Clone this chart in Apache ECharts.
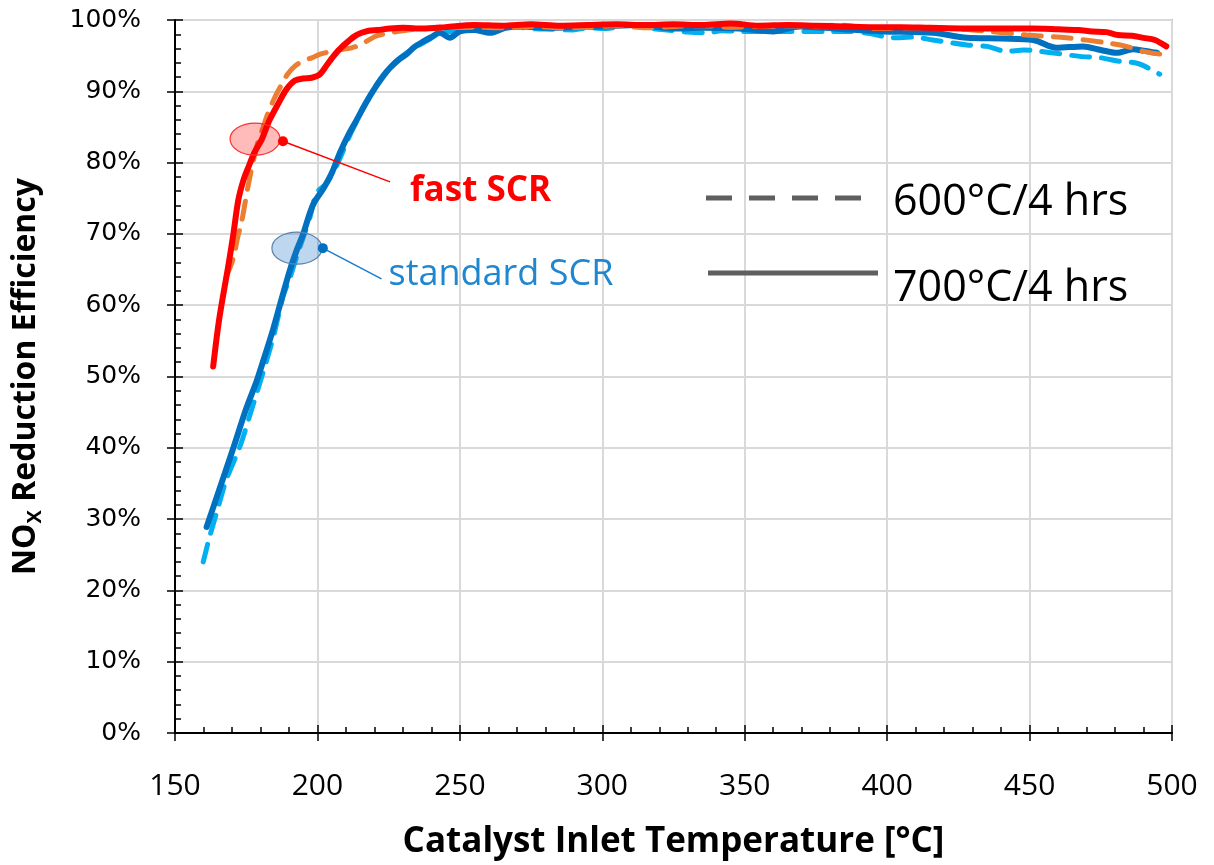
<!DOCTYPE html>
<html>
<head>
<meta charset="utf-8">
<script src="https://cdn.jsdelivr.net/npm/echarts@6/dist/echarts.min.js"></script>
<style>
html,body{margin:0;padding:0;background:#fff;}
#chart{width:1214px;height:865px;}
</style>
</head>
<body>
<div id="chart"></div>
<script>
// ---- Data (temperature °C, NOx reduction efficiency %) ----
var fastSolidT = [163.4, 165.5, 168.7, 170.5, 172.2, 174, 175.7, 178, 180.4, 183, 186.3, 189, 192.1, 195, 198, 200.9, 203.5, 206.2, 208.5, 210.8, 213, 215.5, 218, 221, 225.5, 230, 237, 245, 255, 265, 275, 285, 295, 305, 315, 325, 335, 345, 355, 365, 375, 385, 395, 405, 415, 428, 440, 451, 460, 467, 472, 477, 481, 486, 490, 494, 498];
var fastSolidV = [51.4, 58, 65.5, 70, 74.7, 77.5, 79.3, 81.5, 83.2, 85.8, 88.3, 90.2, 91.5, 91.8, 91.9, 92.4, 93.8, 95.2, 96.2, 97, 97.7, 98.2, 98.5, 98.6, 98.8, 98.9, 98.8, 99.0, 99.3, 99.2, 99.4, 99.2, 99.3, 99.4, 99.3, 99.4, 99.3, 99.5, 99.2, 99.3, 99.2, 99.1, 99.0, 99.0, 98.9, 98.8, 98.8, 98.8, 98.7, 98.6, 98.4, 98.3, 97.9, 97.8, 97.5, 97.2, 96.3];

var fastDashT = [168, 170.4, 172, 173.4, 175.8, 178.7, 181, 182.6, 185.1, 187.5, 189.5, 192, 195, 198, 201, 205, 209, 212, 215, 218, 221, 225.5, 230, 237, 245, 255, 265, 275, 285, 295, 305, 315, 325, 335, 345, 355, 365, 375, 383, 396, 410, 422, 436, 449, 463, 477, 484, 490, 496];
var fastDashV = [64, 66.5, 69.5, 71.7, 77, 82.3, 85, 86.9, 89.2, 91, 92.4, 93.5, 94.3, 94.7, 95.2, 95.6, 95.9, 96.1, 96.5, 97.2, 97.8, 98.2, 98.5, 98.8, 98.9, 99.0, 98.9, 99.1, 98.9, 99.0, 99.2, 98.9, 99.1, 99.2, 99.0, 99.1, 99.2, 99.1, 99.3, 98.8, 98.9, 98.8, 98.4, 97.9, 97.5, 96.8, 96.3, 95.6, 95.2];

var stdSolidT = [161.1, 165, 170.5, 175, 178.7, 182, 184.5, 187.5, 190.4, 193, 195, 197.4, 199, 202, 205, 207.9, 211, 213.8, 216.5, 219.6, 222.5, 225.5, 228.5, 231.3, 234, 237.2, 240, 243, 246.5, 250, 255, 260.6, 266, 272, 280, 290, 300, 313, 325, 335, 348, 360, 369.4, 385, 398.5, 416, 428, 440, 451.3, 459.5, 468.7, 475, 480.6, 486.3, 490, 494.7];
var stdSolidV = [28.9, 33.5, 40, 45.5, 49.4, 53.5, 56.7, 61, 65, 68, 70, 73, 74.5, 76.3, 78.5, 81.4, 84, 86, 88, 90.1, 91.8, 93.3, 94.4, 95.2, 96.2, 97, 97.6, 98.2, 97.5, 98.4, 98.6, 98.2, 98.9, 99.1, 98.9, 99.0, 99.1, 99.3, 98.8, 98.9, 98.8, 98.4, 99.1, 98.7, 98.4, 98.2, 97.5, 97.4, 97.2, 96.1, 96.3, 95.8, 95.4, 95.9, 95.7, 95.4];

var stdDashT = [159.9, 162, 164.6, 168, 172.8, 177, 181, 184.5, 188, 190.5, 192.7, 195, 197.5, 199.7, 203, 207, 211, 215, 219, 223, 227, 231, 235, 239, 243, 248, 254.6, 260, 266.5, 275, 282, 289.7, 295, 301.6, 308.7, 315, 322.7, 330, 336.7, 342, 348.3, 360, 371.8, 380, 386.9, 394, 402, 409, 416, 428, 435, 442, 448, 453.6, 460, 467.6, 475, 481.7, 487, 490, 493.3, 495.7];
var stdDashV = [24, 27.3, 30.9, 35.5, 40.2, 45.5, 50.7, 55.5, 61.3, 64, 66.8, 69.5, 72.5, 75.8, 77, 79.8, 83.5, 86.8, 89.8, 92.2, 94, 95.3, 96.3, 97.2, 98.2, 98.4, 98.8, 98.6, 99.1, 98.8, 98.7, 98.6, 98.9, 98.8, 99.3, 98.9, 98.6, 98.3, 98.2, 98.5, 98.4, 98.4, 98.4, 98.4, 98.4, 98.1, 97.5, 97.6, 97.2, 96.5, 96.3, 95.6, 95.8, 95.6, 95.3, 94.9, 94.7, 94.2, 94.0, 93.6, 92.9, 92.4];

var xTicks = [150, 200, 250, 300, 350, 400, 450, 500];
var yTicks = [0, 10, 20, 30, 40, 50, 60, 70, 80, 90, 100];

// Annotation anchors in data units
var fastEllipse = [178.1, 83.3];
var fastDot = [187.9, 83.0];
var fastLabelAnchor = [225.5, 77.3];
var stdEllipse = [192.8, 68.0];
var stdDot = [201.9, 68.0];
var stdLabelAnchor = [222.5, 63.7];

function zip(a, b) { return a.map(function (v, i) { return [v, b[i]]; }); }

var chart = echarts.init(document.getElementById('chart'), null, {renderer: 'canvas'});

var xMin = xTicks[0], xMax = xTicks[xTicks.length - 1];
var yMin = yTicks[0], yMax = yTicks[yTicks.length - 1];

var narrowFont = '"Liberation Sans Narrow", "Open Sans", sans-serif';

var option = {
  animation: false,
  backgroundColor: '#fff',
  grid: {left: 175, right: 42, top: 20, bottom: 121, show: true, borderColor: '#7f7f7f', borderWidth: 1.5, backgroundColor: 'transparent'},
  xAxis: [{
    type: 'value', min: xMin, max: xMax, interval: 50,
    axisLine: {show: true, lineStyle: {color: '#000', width: 2}},
    axisTick: {show: true, inside: false, length: 8, lineStyle: {color: '#000', width: 1.5}},
    axisLabel: {margin: 38, fontFamily: narrowFont, fontSize: 30, color: '#000'},
    splitLine: {show: true, lineStyle: {color: '#d9d9d9', width: 2}},
    name: 'Catalyst Inlet Temperature [°C]',
    nameLocation: 'middle', nameGap: 92,
    nameTextStyle: {fontFamily: narrowFont, fontWeight: 'bold', fontSize: 35, color: '#000'}
  }, {
    type: 'value', min: xMin, max: xMax, interval: 50, position: 'bottom',
    axisLine: {show: false},
    axisTick: {show: true, inside: true, length: 8, lineStyle: {color: '#000', width: 1.5}},
    minorTick: {show: true, splitNumber: 5, length: 6, lineStyle: {color: '#000', width: 1.5}},
    axisLabel: {show: false}, splitLine: {show: false}
  }],
  yAxis: [{
    type: 'value', min: yMin, max: yMax, interval: 10,
    axisLine: {show: true, lineStyle: {color: '#000', width: 2}},
    axisTick: {show: true, inside: false, length: 8, lineStyle: {color: '#000', width: 1.5}},
    axisLabel: {margin: 34, formatter: '{value}%', fontFamily: '"DejaVu Sans", Verdana, sans-serif', fontSize: 25, color: '#000'},
    splitLine: {show: true, lineStyle: {color: '#d9d9d9', width: 2}},
    name: '{a|NO}{s|X}{a| Reduction Efficiency}',
    nameLocation: 'middle', nameGap: 130, nameRotate: 90,
    nameTextStyle: {
      rich: {
        a: {fontFamily: narrowFont, fontWeight: 'bold', fontSize: 32, color: '#000', lineHeight: 38, verticalAlign: 'middle'},
        s: {fontFamily: narrowFont, fontWeight: 'bold', fontSize: 20, color: '#000', lineHeight: 38, verticalAlign: 'bottom', padding: [12, 0, 0, 0]}
      }
    }
  }, {
    type: 'value', min: yMin, max: yMax, interval: 10, position: 'left',
    axisLine: {show: false},
    axisTick: {show: true, inside: true, length: 8, lineStyle: {color: '#000', width: 1.5}},
    minorTick: {show: true, splitNumber: 5, length: 6, lineStyle: {color: '#000', width: 1.5}},
    axisLabel: {show: false}, splitLine: {show: false}
  }],
  series: [
    {name: 'standard SCR 600°C/4 hrs', type: 'line', data: zip(stdDashT, stdDashV), showSymbol: false, smooth: 0.3,
     lineStyle: {color: '#00b0f0', width: 5, type: [18, 12], cap: 'round'}, z: 2},
    {name: 'standard SCR 700°C/4 hrs', type: 'line', data: zip(stdSolidT, stdSolidV), showSymbol: false, smooth: 0.3,
     lineStyle: {color: '#0070c0', width: 6, cap: 'round', join: 'round'}, z: 3},
    {name: 'fast SCR 600°C/4 hrs', type: 'line', data: zip(fastDashT, fastDashV), showSymbol: false, smooth: 0.3,
     lineStyle: {color: '#ed7d31', width: 5, type: [18, 12], cap: 'round'}, z: 4},
    {name: 'fast SCR 700°C/4 hrs', type: 'line', data: zip(fastSolidT, fastSolidV), showSymbol: false, smooth: 0.3,
     lineStyle: {color: '#ff0000', width: 6, cap: 'round', join: 'round'}, z: 5}
  ]
};
chart.setOption(option);

function px(p) { return chart.convertToPixel({xAxisIndex: 0, yAxisIndex: 0}, p); }

var fe = px(fastEllipse), fd = px(fastDot), fl = px(fastLabelAnchor);
var se = px(stdEllipse), sd = px(stdDot), sl = px(stdLabelAnchor);

var labelFont = '"Open Sans", "Liberation Sans", sans-serif';
var graphics = [
  {type: 'ellipse', shape: {cx: fe[0], cy: fe[1], rx: 25, ry: 16}, style: {fill: 'rgba(255,0,0,0.27)', stroke: '#ff3030', lineWidth: 1.2}, z: 20},
  {type: 'line', shape: {x1: fd[0], y1: fd[1], x2: fl[0], y2: fl[1]}, style: {stroke: '#ff0000', lineWidth: 1.5}, z: 20},
  {type: 'circle', shape: {cx: fd[0], cy: fd[1], r: 5}, style: {fill: '#ff0000'}, z: 21},
  {type: 'text', x: fl[0] + 20, y: fl[1] + 9, style: {text: 'fast SCR', fill: '#ff0000', font: 'bold 35px ' + labelFont, textVerticalAlign: 'middle'}, z: 21},

  {type: 'ellipse', shape: {cx: se[0], cy: se[1], rx: 25, ry: 16}, style: {fill: 'rgba(40,120,200,0.3)', stroke: '#5b84ad', lineWidth: 1.2}, z: 20},
  {type: 'line', shape: {x1: sd[0], y1: sd[1], x2: sl[0], y2: sl[1]}, style: {stroke: '#1a7ccc', lineWidth: 1.5}, z: 20},
  {type: 'circle', shape: {cx: sd[0], cy: sd[1], r: 5}, style: {fill: '#0070c0'}, z: 21},
  {type: 'text', x: sl[0] + 7, y: sl[1] - 4, style: {text: 'standard SCR', fill: '#1f86d0', font: '36px ' + labelFont, textVerticalAlign: 'middle'}, z: 21},

  {type: 'line', shape: {x1: 706, y1: 198, x2: 862, y2: 198}, style: {stroke: '#5f5f5f', lineWidth: 5, lineDash: [26, 17]}, z: 20},
  {type: 'text', x: 893, y: 203, style: {text: '600°C/4 hrs', fill: '#000', font: '43px ' + labelFont, textVerticalAlign: 'middle'}, z: 21},
  {type: 'line', shape: {x1: 708, y1: 273, x2: 878, y2: 273}, style: {stroke: '#5f5f5f', lineWidth: 5}, z: 20},
  {type: 'text', x: 893, y: 289, style: {text: '700°C/4 hrs', fill: '#000', font: '43px ' + labelFont, textVerticalAlign: 'middle'}, z: 21}
];
chart.setOption({graphic: graphics});
</script>
</body>
</html>
